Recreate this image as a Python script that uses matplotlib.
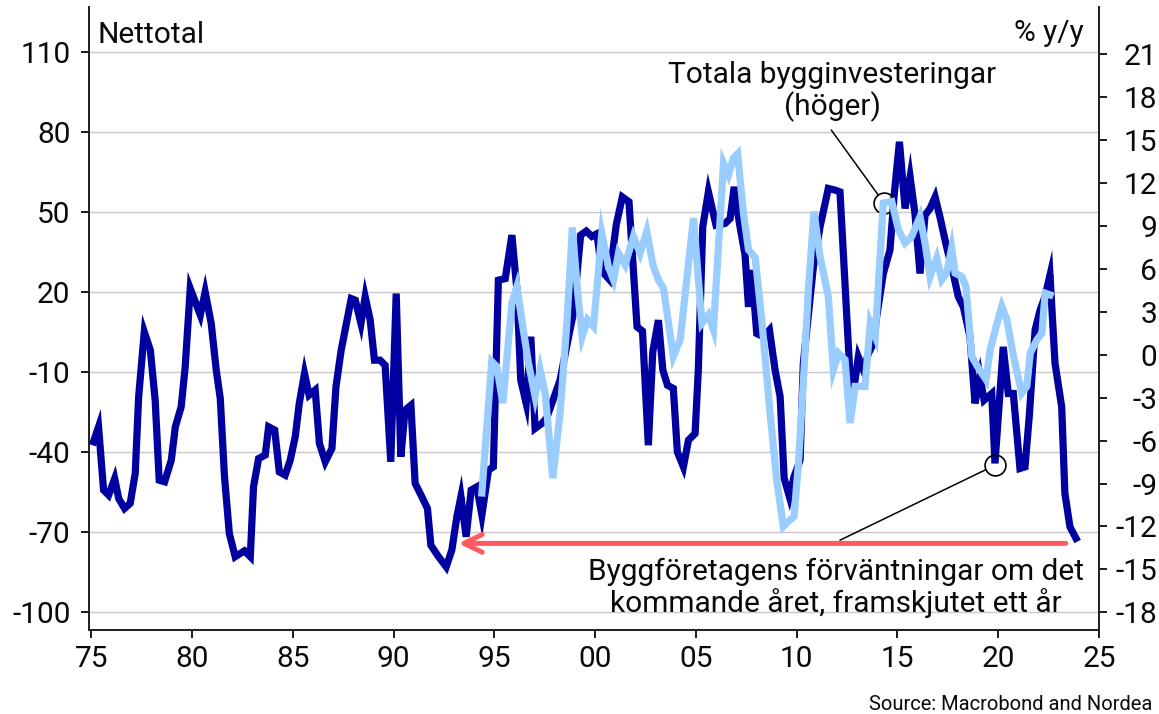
import matplotlib
matplotlib.use("Agg")
import matplotlib.pyplot as plt

plt.rcParams['font.family'] = ['Roboto', 'DejaVu Sans']
plt.rcParams['axes.unicode_minus'] = False

# Byggföretagens förväntningar (nettotal, left axis), shifted one year
dark_years = [1975.11, 1975.36, 1975.61, 1975.86, 1976.16, 1976.36, 1976.65, 1976.93, 1977.18, 1977.35,
              1977.63, 1977.93, 1978.17, 1978.37, 1978.64, 1978.97, 1979.17, 1979.46, 1979.66, 1979.91,
              1980.41, 1980.65, 1980.95, 1981.20, 1981.40, 1981.61, 1981.85, 1982.14, 1982.60, 1982.89,
              1983.05, 1983.30, 1983.63, 1983.80, 1984.10, 1984.33, 1984.62, 1984.87, 1985.12, 1985.32,
              1985.58, 1985.81, 1986.11, 1986.32, 1986.61, 1986.94, 1987.14, 1987.40, 1987.90, 1988.10,
              1988.38, 1988.59, 1988.84, 1989.05, 1989.33, 1989.58, 1989.86, 1990.13, 1990.36, 1990.57,
              1990.86, 1991.07, 1991.40, 1991.68, 1991.85, 1992.23, 1992.61, 1992.89, 1993.14, 1993.34,
              1993.60, 1993.85, 1994.13, 1994.38, 1994.71, 1994.95, 1995.20, 1995.54, 1995.87, 1996.12,
              1996.31, 1996.58, 1996.81, 1997.02, 1997.36, 1997.60, 1998.26, 1998.75, 1998.92, 1999.28,
              1999.56, 1999.84, 2000.09, 2000.33, 2000.70, 2001.05, 2001.35, 2001.68, 2002.08, 2002.35,
              2002.64, 2002.86, 2003.14, 2003.36, 2003.59, 2003.88, 2004.08, 2004.38, 2004.63, 2004.96,
              2005.12, 2005.34, 2005.62, 2006.00, 2006.45, 2006.70, 2006.90, 2007.16, 2007.44, 2007.61,
              2007.77, 2008.02, 2008.35, 2008.65, 2008.93, 2009.18, 2009.38, 2009.64, 2009.87, 2010.17,
              2010.33, 2010.83, 2011.16, 2011.57, 2011.90, 2012.15, 2012.65, 2012.85, 2013.06, 2013.31,
              2013.56, 2013.81, 2013.97, 2014.30, 2014.63, 2014.83, 2015.10, 2015.38, 2015.63, 2015.87,
              2016.12, 2016.37, 2016.62, 2016.87, 2017.11, 2017.44, 2017.77, 2018.02, 2018.27, 2018.60,
              2018.85, 2019.10, 2019.30, 2019.68, 2019.84, 2020.25, 2020.50, 2020.75, 2021.08, 2021.33,
              2021.54, 2021.83, 2022.08, 2022.32, 2022.57, 2022.82, 2023.15, 2023.31, 2023.56, 2023.86]
dark_vals = [-36.0, -30.4, -54.1, -56.0, -49.8, -57.3, -61.0, -59.1, -47.9, -19.1,
             5.2, -1.6, -20.4, -50.4, -51.0, -42.9, -30.4, -22.9, -7.9, 21.5,
             11.5, 20.2, 8.4, -9.1, -19.8, -49.1, -70.4, -79.1, -76.9, -79.1,
             -52.9, -42.3, -41.0, -30.4, -31.6, -47.3, -48.5, -42.9, -34.1, -21.6,
             -10.4, -18.5, -16.6, -36.6, -43.5, -38.5, -15.4, -1.6, 17.7, 17.1,
             8.4, 18.4, 9.6, -5.4, -5.4, -7.3, -43.5, 19.6, -41.6, -24.1,
             -22.3, -51.6, -56.6, -61.0, -74.8, -79.1, -82.9, -76.6, -64.1, -56.6,
             -71.6, -54.1, -52.9, -63.5, -46.6, -45.4, 24.6, 25.2, 41.5, 20.9,
             -12.9, -21.6, 3.4, -31.0, -29.1, -27.0, -12.9, 5.9, 12.1, 41.5,
             43.0, 41.0, 42.0, 28.0, 24.9, 45.5, 55.8, 54.0, 7.1, 5.5,
             -37.3, -2.3, 9.6, -9.1, -14.8, -16.0, -39.8, -45.4, -35.4, -32.9,
             -9.1, 44.6, 57.7, 45.2, 45.9, 47.7, 59.6, 45.9, 34.0, 14.6,
             28.4, 4.6, 3.4, 5.9, -9.1, -19.1, -49.7, -56.6, -49.1, -42.9,
             -6.6, 29.6, 44.6, 59.0, 58.4, 57.7, -11.6, -15.4, -4.2, -9.1,
             -2.9, 0.9, 10.9, 27.1, 35.9, 55.8, 76.5, 51.5, 63.3, 49.6,
             27.1, 49.0, 51.5, 55.8, 48.3, 37.1, 27.1, 18.4, 14.6, 3.4,
             -21.6, -11.6, -20.4, -17.9, -44.1, -0.4, -17.9, -17.9, -46.0, -45.4,
             -26.6, 5.9, 13.4, 18.4, 26.5, -6.6, -22.9, -55.4, -67.9, -72.2]

# Totala bygginvesteringar (% y/y, right axis)
light_years = [1994.38, 1994.87, 1995.12, 1995.42, 1995.87, 1996.12, 1996.36, 1996.69, 1997.02, 1997.27,
               1997.52, 1997.90, 1998.26, 1998.60, 1998.87, 1999.12, 1999.36, 1999.62, 1999.92, 2000.33,
               2000.66, 2000.91, 2001.16, 2001.49, 2001.90, 2002.23, 2002.56, 2002.89, 2003.14, 2003.39,
               2003.88, 2004.22, 2004.88, 2005.30, 2005.62, 2005.87, 2006.37, 2006.62, 2006.86, 2007.07,
               2007.36, 2007.61, 2007.94, 2008.27, 2008.68, 2009.01, 2009.34, 2009.59, 2009.87, 2010.09,
               2010.33, 2010.58, 2010.86, 2011.16, 2011.57, 2011.82, 2012.07, 2012.40, 2012.65, 2012.90,
               2013.39, 2013.65, 2013.90, 2014.30, 2014.72, 2015.05, 2015.38, 2015.71, 2016.12, 2016.37,
               2016.62, 2016.95, 2017.20, 2017.44, 2017.69, 2017.86, 2018.19, 2018.40, 2018.69, 2019.02,
               2019.40, 2019.60, 2019.90, 2020.18, 2020.43, 2020.76, 2021.17, 2021.42, 2021.59, 2021.92,
               2022.17, 2022.33, 2022.57]
light_vals = [-9.66, -0.47, -0.82, -3.38, 3.6, 4.77, 2.45, -0.58, -2.91, -1.05,
              -2.68, -8.62, -4.07, 2.21, 8.9, 4.54, 1.28, 2.45, 1.98, 8.5,
              6.17, 5.24, 7.1, 6.29, 8.27, 7.1, 8.62, 6.17, 5.24, 4.66,
              -0.12, 1.05, 9.55, 2.21, 2.8, 1.75, 13.4, 12.58, 13.75, 14.05,
              9.9, 7.34, 6.8, 2.4, -4.07, -8.74, -12.0, -11.65, -11.3, -7.57,
              -1.98, 4.54, 10.01, 6.87, 4.07, -1.05, 0.12, -0.35, -4.77, -2.21,
              -2.21, 2.21, 1.28, 10.6, 10.71, 8.74, 7.81, 8.27, 9.66, 7.81,
              5.47, 6.76, 5.24, 5.71, 7.46, 5.71, 5.47, 4.77, -0.12, -0.93,
              -1.75, 0.35, 1.98, 3.38, 2.45, -0.12, -2.68, -2.21, 0.12, 1.05,
              1.52, 4.31, 4.19]

x_ticks = [1975, 1980, 1985, 1990, 1995, 2000, 2005, 2010, 2015, 2020, 2025]
x_labels = ['75', '80', '85', '90', '95', '00', '05', '10', '15', '20', '25']
left_ticks = [-100, -70, -40, -10, 20, 50, 80, 110]
right_ticks = [-18, -15, -12, -9, -6, -3, 0, 3, 6, 9, 12, 15, 18, 21]

DARK = '#0000A0'
LIGHT = '#99CCFF'
RED = '#FF5A5F'
TXT = '#0A0A0A'
FS = 21.5

fig = plt.figure(figsize=(11.59, 7.14), dpi=100)
ax = fig.add_axes([0.0765, 0.1176, 0.9482 - 0.0765, 0.990 - 0.1176])
ax2 = ax.twinx()

ax.plot(dark_years, dark_vals, color=DARK, lw=5.2, solid_joinstyle='miter', zorder=3)
ax2.plot(light_years, light_vals, color=LIGHT, lw=5.2, solid_joinstyle='miter', zorder=3)

ax.set_xlim(1974.87, 2025.0)
ax.set_ylim(-106.6, 127)
ax2.set_ylim(-19.24, 24.3)

ax.set_xticks(x_ticks)
ax.set_xticklabels(x_labels)
ax.set_yticks(left_ticks)
ax.set_yticklabels([str(v) for v in left_ticks])
ax2.set_yticks(right_ticks)
ax2.set_yticklabels([str(v) for v in right_ticks])

ax.grid(axis='y', color='#C8C8C8', lw=1.0)
ax.set_axisbelow(True)

for a in (ax, ax2):
    a.spines['top'].set_visible(False)
    for s in ('left', 'right', 'bottom'):
        a.spines[s].set_linewidth(1.3)
        a.spines[s].set_color('#222222')

ax.tick_params(axis='both', direction='out', length=6, width=1.3, labelsize=FS, colors=TXT)
ax.tick_params(axis='y', pad=7)
ax.tick_params(axis='x', pad=5)
ax2.tick_params(axis='y', direction='out', length=6, width=1.3, labelsize=FS, colors=TXT, pad=36)
for lab in ax2.get_yticklabels():
    lab.set_horizontalalignment('right')

# axis captions
fig.text(97 / 1159, 1 - 43 / 714, 'Nettotal', fontsize=FS, ha='left', va='baseline', color=TXT)
fig.text(1084 / 1159, 1 - 41 / 714, '% y/y', fontsize=FS, ha='right', va='baseline', color=TXT)

# Annotation: Totala bygginvesteringar
circ1 = (2014.33, 53.6)
ax.plot([circ1[0]], [circ1[1]], marker='o', ms=15, mfc='none', mec='black', mew=1.2, zorder=6)
ax.annotate('', xy=circ1, xytext=(2011.72, 80.9),
            arrowprops=dict(arrowstyle='-', color='black', lw=1.1, shrinkA=0, shrinkB=7.5), zorder=6)
fig.text(832 / 1159, 1 - 115 / 714, 'Totala bygginvesteringar\n(höger)', fontsize=FS,
         ha='center', va='baseline', multialignment='center', linespacing=1.1, color=TXT)

# Annotation: Byggföretagens förväntningar
circ2 = (2019.84, -44.8)
ax.plot([circ2[0]], [circ2[1]], marker='o', ms=15, mfc='none', mec='black', mew=1.2, zorder=6)
ax.annotate('', xy=circ2, xytext=(2012.15, -72.9),
            arrowprops=dict(arrowstyle='-', color='black', lw=1.1, shrinkA=0, shrinkB=7.5), zorder=6)
fig.text(836 / 1159, 1 - 612 / 714, 'Byggföretagens förväntningar om det\nkommande året, framskjutet ett år',
         fontsize=FS, ha='center', va='baseline', multialignment='center', linespacing=1.1, color=TXT)

# Red shift arrow
ax.annotate('', xy=(1993.22, -74.1), xytext=(2023.36, -74.1),
            arrowprops=dict(arrowstyle='->,head_length=0.65,head_width=0.32', color=RED, lw=3.6,
                            mutation_scale=20, shrinkA=0, shrinkB=0), zorder=5)

fig.text(1152 / 1159, 1 - 710 / 714, 'Source: Macrobond and Nordea', fontsize=14.5, ha='right',
         va='baseline', color=TXT)

fig.savefig('out.png', dpi=100)
